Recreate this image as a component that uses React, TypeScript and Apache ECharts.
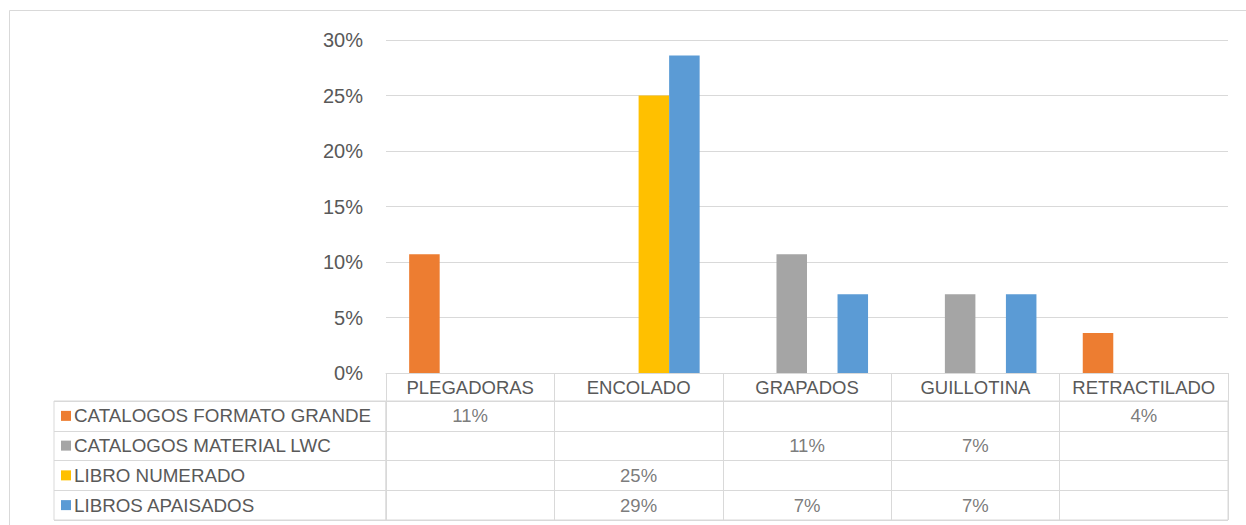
import React, { useEffect, useRef } from "react";
import * as echarts from "echarts";

const categories = ["PLEGADORAS", "ENCOLADO", "GRAPADOS", "GUILLOTINA", "RETRACTILADO"];
const seriesNames = [
  "CATALOGOS FORMATO GRANDE",
  "CATALOGOS MATERIAL LWC",
  "LIBRO NUMERADO",
  "LIBROS APAISADOS",
];
const seriesColors = ["#ED7D31", "#A5A5A5", "#FFC000", "#5B9BD5"];
const catalogosFormatoGrande = [0.107, null, null, null, 0.036];
const catalogosMaterialLwc = [null, null, 0.107, 0.071, null];
const libroNumerado = [null, 0.25, null, null, null];
const librosApaisados = [null, 0.286, 0.071, 0.071, null];
const yMin = 0;
const yMax = 0.3;
const yStep = 0.05;

const allSeries = [catalogosFormatoGrande, catalogosMaterialLwc, libroNumerado, librosApaisados];

const FONT = "'Liberation Sans', Arial, sans-serif";
const TEXT = "#595959";
const LINE = "#D9D9D9";

const pct = (v: number) => Math.round(v * 100) + "%";

export default function App() {
  const ref = useRef<HTMLDivElement>(null);
  useEffect(() => {
    if (!ref.current) return;
    const chart = echarts.init(ref.current, null, { renderer: "svg" });

    const tableData: any[] = [];
    allSeries.forEach((arr, row) => {
      arr.forEach((v, col) => {
        if (v !== null && v !== undefined) tableData.push([col, row, v]);
      });
    });

    const rich: any = { t: { fontSize: 18.8, color: TEXT, fontFamily: FONT, padding: [0, 0, 0, 3] } };
    seriesColors.forEach((c, i) => {
      rich["m" + i] = { width: 10, height: 10, backgroundColor: c };
    });

    chart.setOption({
      animation: false,
      textStyle: { fontFamily: FONT },
      grid: [
        { left: 386, right: 18, top: 40, height: 333 },
        { left: 386, right: 18, top: 401, height: 119, show: true, borderColor: LINE, borderWidth: 1 },
        { left: 54, width: 332, top: 401, height: 119, show: true, borderColor: LINE, borderWidth: 1 },
      ],
      xAxis: [
        {
          gridIndex: 0,
          type: "category",
          data: categories,
          axisLine: { show: true, lineStyle: { color: LINE, width: 1 } },
          axisTick: { show: true, length: 28, lineStyle: { color: LINE, width: 1 } },
          axisLabel: {
            interval: 0,
            color: TEXT,
            fontSize: 18.5,
            fontFamily: FONT,
            verticalAlign: "middle",
            margin: 14,
          },
        },
        {
          gridIndex: 1,
          type: "category",
          data: categories,
          axisLine: { show: false },
          axisTick: { show: false },
          axisLabel: { show: false },
          splitLine: { show: true, interval: 0, lineStyle: { color: LINE, width: 1 } },
        },
        {
          gridIndex: 2,
          type: "value",
          show: false,
        },
      ],
      yAxis: [
        {
          gridIndex: 0,
          type: "value",
          min: yMin,
          max: yMax,
          interval: yStep,
          axisLine: { show: false },
          axisTick: { show: false },
          splitLine: { show: true, lineStyle: { color: LINE, width: 1 } },
          axisLabel: { color: TEXT, fontSize: 20, fontFamily: FONT, margin: 23, formatter: (v: number) => pct(v) },
        },
        {
          gridIndex: 1,
          type: "category",
          inverse: true,
          data: seriesNames,
          axisLine: { show: false },
          axisTick: { show: false },
          axisLabel: { show: false },
          splitLine: { show: true, interval: 0, lineStyle: { color: LINE, width: 1 } },
        },
        {
          gridIndex: 2,
          type: "category",
          inverse: true,
          data: seriesNames,
          axisLine: { show: false },
          axisTick: { show: false },
          splitLine: { show: true, interval: 0, lineStyle: { color: LINE, width: 1 } },
          axisLabel: {
            inside: true,
            margin: 7,
            align: "left",
            interval: 0,
            formatter: (name: string, idx: number) => `{m${idx}|}{t|${name}}`,
            rich,
          },
        },
      ],
      series: [
        ...allSeries.map((arr, i) => ({
          type: "bar",
          name: seriesNames[i],
          xAxisIndex: 0,
          yAxisIndex: 0,
          data: arr,
          itemStyle: { color: seriesColors[i] },
          barGap: "0%",
          barCategoryGap: "27.5%",
        })),
        {
          type: "scatter",
          xAxisIndex: 1,
          yAxisIndex: 1,
          symbolSize: 0,
          data: tableData,
          label: {
            show: true,
            position: "inside",
            color: TEXT,
            fontSize: 18.5,
            fontFamily: FONT,
            formatter: (p: any) => pct(p.value[2]),
          },
        },
      ],
      graphic: [
        {
          type: "rect",
          shape: { x: 9.5, y: 10.5, width: 1400, height: 700 },
          style: { fill: "none", stroke: LINE, lineWidth: 1 },
          silent: true,
        },
      ],
    });
    return () => chart.dispose();
  }, []);
  return (
    <div
      ref={ref}
      style={{ position: "absolute", left: 0, top: 0, width: 1246, height: 525, background: "#fff" }}
    />
  );
}
